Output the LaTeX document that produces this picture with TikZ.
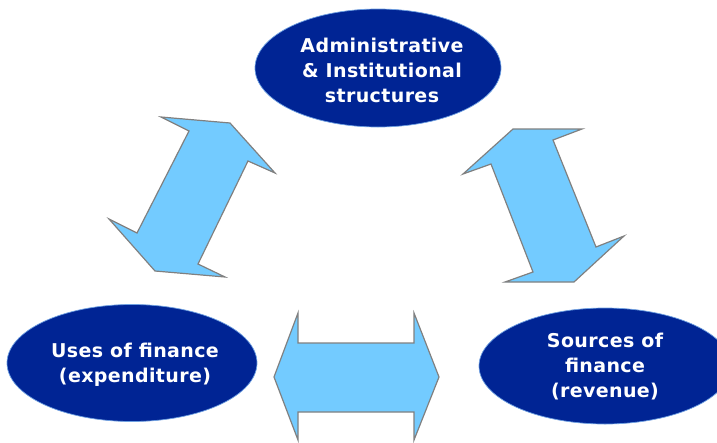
\documentclass[tikz,border=0pt]{standalone}
\usepackage{fontspec}
\setmainfont{DejaVu Sans}
\newfontfamily\lblfont[LetterSpace=2]{DejaVu Sans Bold}
\usetikzlibrary{shapes.geometric}
\definecolor{ellblue}{RGB}{0,36,148}
\definecolor{ellrim}{RGB}{110,160,225}
\definecolor{arrowblue}{RGB}{115,203,255}
\definecolor{arrowgray}{RGB}{128,128,128}
\tikzset{
  ell/.style={ellipse, fill=ellblue, draw=ellrim, line width=0.7pt, inner sep=0pt},
  elltext/.style={text=white, font=\lblfont\fontsize{19}{25}\selectfont, align=center, inner sep=0pt},
  blockarrow/.style={fill=arrowblue, draw=arrowgray, line width=1.2pt, line join=miter}
}
\begin{document}
\begin{tikzpicture}[x=1pt,y=-1pt]
\useasboundingbox (0,0) rectangle (717,442);
% block arrows
\draw[blockarrow] (161,117) -- (230,123) -- (275,173) -- (248,161) -- (198,264) -- (225,277)
  -- (155,271) -- (109,219) -- (137,233) -- (189,131) -- cycle;
\draw[blockarrow] (274,377) -- (298,313) -- (298,343) -- (414,343) -- (414,313) -- (439,377)
  -- (414,440) -- (414,412) -- (298,412) -- (298,440) -- cycle;
\draw[blockarrow] (513,129) -- (582,129) -- (553,140) -- (596,247) -- (624,236) -- (574,282)
  -- (505,282) -- (533,272) -- (491,164) -- (463,174) -- cycle;
% ellipses
\node[ell, minimum width=246pt, minimum height=118pt] (admin) at (378,68) {};
\node[elltext] (admintxt) at (382,70)
  {Administrative\\\& Institutional\\structures};
\node[ell, minimum width=250pt, minimum height=117pt] (uses) at (132,363) {};
\node[elltext] (usestxt) at (135,365)
  {Uses of finance\\(expenditure)};
\node[ell, minimum width=252pt, minimum height=116pt] (sources) at (605,366) {};
\node[elltext] (sourcestxt) at (605,367)
  {Sources of\\finance\\(revenue)};
\end{tikzpicture}
\end{document}
